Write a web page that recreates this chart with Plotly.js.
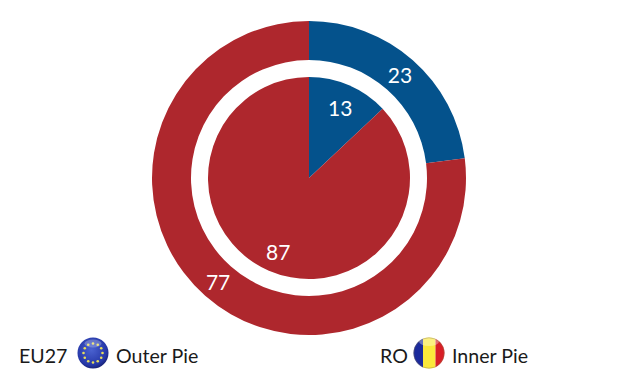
<!DOCTYPE html>
<html>
<head>
<meta charset="utf-8">
<script src="https://cdn.plot.ly/plotly-3.0.1.min.js"></script>
<style>html,body{margin:0;padding:0;background:#fff}#c{width:640px;height:374px}</style>
</head>
<body>
<div id="c"></div>
<script>
var sliceNames = ["Blue share", "Red share"];
var outerValues = [23, 77];
var innerValues = [13, 87];
var sliceColors = ["#04528C", "#AE272D"];
var W = 640, H = 374, CX = 309, CY = 178;
var FONT = "Lato, 'Open Sans', sans-serif";
function dom(r){return {x:[(CX-r)/W,(CX+r)/W], y:[1-(CY+r)/H,1-(CY-r)/H]};}
function circleIcon(inner){
  return "data:image/svg+xml;utf8," + encodeURIComponent('<svg xmlns="http://www.w3.org/2000/svg" width="64" height="64" viewBox="0 0 64 64">'+inner+'</svg>');
}
var stars = "";
[0,30,60,90,120,150,180,210,240,270,300,330].forEach(function(a){
  var t=a*Math.PI/180;
  stars += '<circle cx="'+(32+19*Math.cos(t))+'" cy="'+(32+19*Math.sin(t))+'" r="2.6" fill="#E8DE5A"/>';
});
var euSvg = '<defs><radialGradient id="g" cx="45%" cy="40%" r="65%"><stop offset="0" stop-color="#4A62D0"/><stop offset="0.75" stop-color="#2638A8"/><stop offset="1" stop-color="#141C66"/></radialGradient></defs><circle cx="32" cy="32" r="31" fill="url(#g)"/>'+stars+'<ellipse cx="32" cy="13" rx="17" ry="8" fill="#fff" opacity="0.25"/>';
var roSvg = '<defs><clipPath id="k"><circle cx="32" cy="32" r="31"/></clipPath></defs><g clip-path="url(#k)"><rect x="0" y="0" width="20" height="64" fill="#1B2A9C"/><rect x="20" y="0" width="25" height="64" fill="#FBE83C"/><rect x="45" y="0" width="19" height="64" fill="#D81E26"/><ellipse cx="32" cy="9" rx="20" ry="9" fill="#fff" opacity="0.35"/></g><circle cx="32" cy="32" r="30.5" fill="none" stroke="#8A7A50" stroke-opacity="0.5" stroke-width="1.5"/>';
function icon(src,cx,cy,r){
  return {source:circleIcon(src),xref:"paper",yref:"paper",x:(cx-r)/W,y:1-(cy-r)/H,sizex:2*r/W,sizey:2*r/H,xanchor:"left",yanchor:"top",sizing:"stretch",layer:"above"};
}
function note(text,x,y){
  return {text:text,xref:"paper",yref:"paper",x:x/W,y:1-y/H,xanchor:"left",yanchor:"middle",showarrow:false,font:{family:FONT,size:19.6,color:"#1a1a1a"}};
}
function valueNote(v,x,y){
  return {text:String(v),xref:"paper",yref:"paper",x:x/W,y:1-y/H,xanchor:"center",yanchor:"middle",showarrow:false,font:{family:FONT,size:21,color:"#ffffff"}};
}
function pie(values,r,hole,info){
  return {type:"pie",labels:sliceNames,values:values,sort:false,direction:"clockwise",rotation:0,hole:hole,domain:dom(r),
    marker:{colors:sliceColors,line:{width:0}},textinfo:info,textposition:"inside",insidetextorientation:"horizontal",
    insidetextfont:{family:FONT,size:21,color:"#ffffff"},showlegend:false,hoverinfo:"label+value"};
}
Plotly.newPlot("c",[pie(outerValues,157,118/157,"value"),pie(innerValues,101,0,"none")],{
  width:W,height:H,margin:{l:0,r:0,t:0,b:0},paper_bgcolor:"#fff",showlegend:false,
  annotations:[note("EU27",17,355),note("Outer Pie",113.5,355),note("RO",378,355),note("Inner Pie",449.5,355),
    valueNote(innerValues[0],340,107),valueNote(innerValues[1],278,251)],
  images:[icon(euSvg,93,353,16),icon(roSvg,429,353,16)]
},{displayModeBar:false,staticPlot:true});
</script>
</body>
</html>
